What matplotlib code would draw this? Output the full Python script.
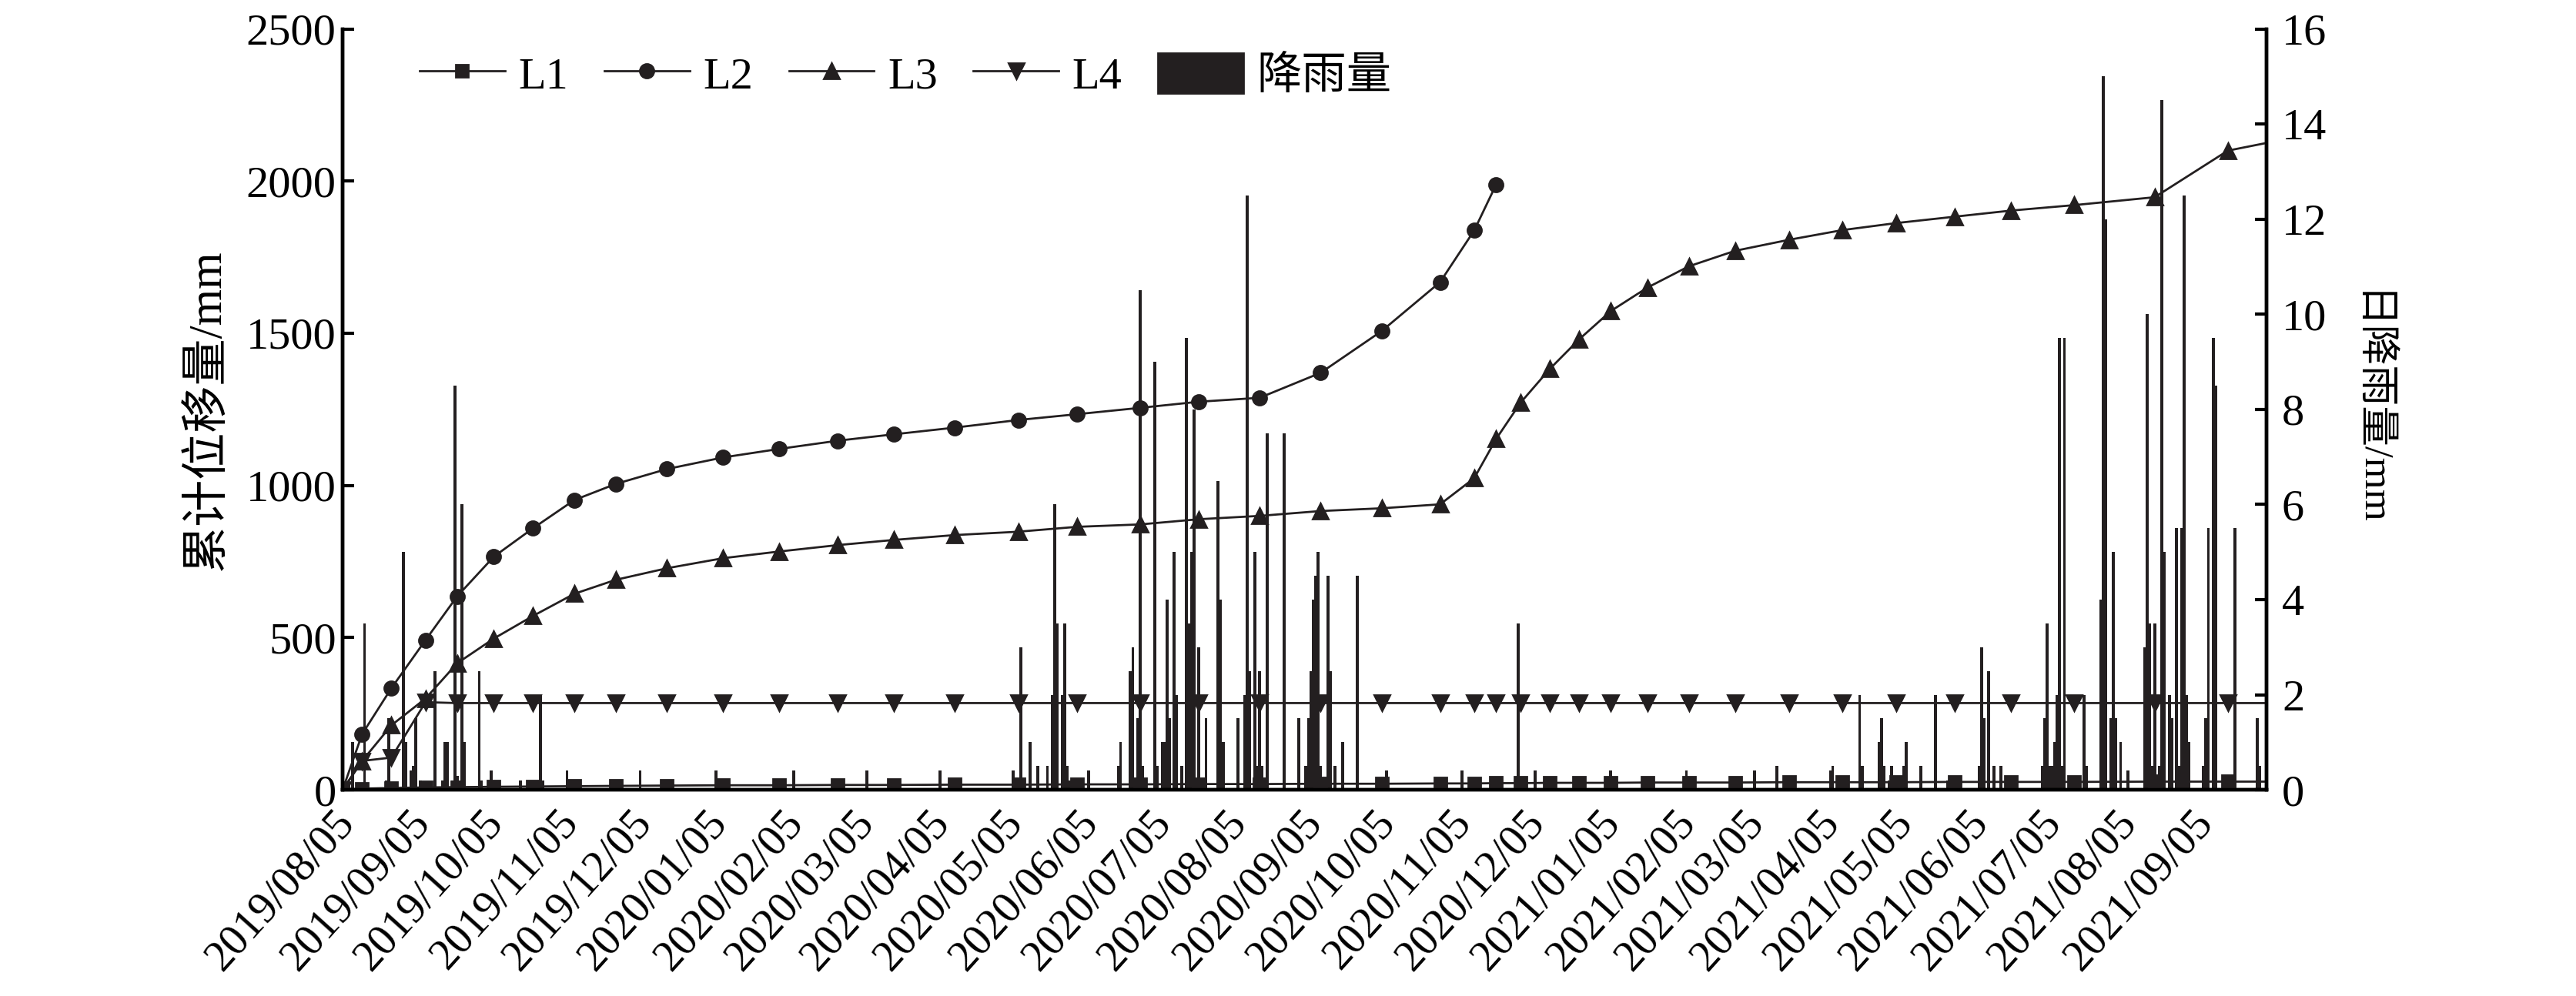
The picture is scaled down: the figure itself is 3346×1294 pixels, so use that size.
import matplotlib
matplotlib.use("Agg")
import matplotlib.pyplot as plt
import matplotlib.dates as mdates
from matplotlib.patches import Patch
from matplotlib.lines import Line2D
import pandas as pd

plt.rcParams['font.family'] = ['Liberation Serif', 'Noto Sans CJK SC']

# 监测日期（L1、L3、L4 共用；L2 只到 2020/11/12）
monitor_dates = ['2019-07-28', '2019-08-05', '2019-08-17', '2019-08-31', '2019-09-13',
                 '2019-09-28', '2019-10-14', '2019-10-31', '2019-11-17', '2019-12-08',
                 '2019-12-31', '2020-01-23', '2020-02-16', '2020-03-10', '2020-04-04',
                 '2020-04-30', '2020-05-24', '2020-06-19', '2020-07-13', '2020-08-07',
                 '2020-09-01', '2020-09-26', '2020-10-20', '2020-11-03', '2020-11-12',
                 '2020-11-22', '2020-12-04', '2020-12-16', '2020-12-29', '2021-01-13',
                 '2021-01-30', '2021-02-18', '2021-03-12', '2021-04-03', '2021-04-25',
                 '2021-05-19', '2021-06-11', '2021-07-07', '2021-08-09', '2021-09-08',
                 '2021-09-30']

# 累计位移量 /mm
L1 = [0, 4, 6, 8, 9, 10, 11, 12, 13, 14, 15, 15, 16, 16, 17, 17, 18, 18, 19, 19,
      20, 20, 21, 21, 22, 22, 23, 23, 23, 24, 24, 24, 25, 25, 25, 26, 26, 26, 27, 27, 27]
L2 = [0, 183, 334, 492, 636, 766, 859, 952, 1005, 1054, 1092, 1120, 1147, 1168, 1190,
      1215, 1234, 1255, 1275, 1288, 1370, 1507, 1668, 1838, 1989]
L3 = [0, 95, 212, 300, 416, 497, 571, 644, 690, 728, 761, 783, 804, 821, 837, 848, 864,
      872, 889, 900, 916, 925, 938, 1024, 1153, 1272, 1383, 1480, 1573, 1650, 1720, 1771,
      1807, 1839, 1862, 1883, 1903, 1921, 1947, 2100, 2135]
L4 = [0, 95, 106, 288, 285, 285, 285, 285, 285, 285, 285, 285, 285, 285, 285, 285, 285,
      285, 285, 285, 285, 285, 285, 285, 285, 285, 285, 285, 285, 285, 285, 285, 285, 285,
      285, 285, 285, 285, 285, 285, 285]

# 日降雨量 /mm
rain_dates = ['2019-08-01', '2019-08-06', '2019-08-15', '2019-08-16', '2019-08-22',
              '2019-08-23', '2019-08-25', '2019-08-26', '2019-08-27', '2019-08-29',
              '2019-09-04', '2019-09-07', '2019-09-08', '2019-09-09', '2019-09-11',
              '2019-09-12', '2019-09-13', '2019-09-14', '2019-09-15', '2019-09-16',
              '2019-09-22', '2019-09-23', '2019-09-27', '2019-10-09', '2019-10-12',
              '2019-10-17', '2019-10-18', '2019-10-28', '2019-11-27', '2019-12-28',
              '2020-01-29', '2020-02-28', '2020-03-29', '2020-04-28', '2020-05-01',
              '2020-05-02', '2020-05-05', '2020-05-08', '2020-05-12', '2020-05-14',
              '2020-05-15', '2020-05-16', '2020-05-18', '2020-05-19', '2020-05-20',
              '2020-05-21', '2020-05-23', '2020-05-29', '2020-06-10', '2020-06-11',
              '2020-06-15', '2020-06-16', '2020-06-18', '2020-06-19', '2020-06-20',
              '2020-06-25', '2020-06-26', '2020-06-28', '2020-06-29', '2020-06-30',
              '2020-07-01', '2020-07-03', '2020-07-04', '2020-07-06', '2020-07-08',
              '2020-07-09', '2020-07-10', '2020-07-11', '2020-07-13', '2020-07-16',
              '2020-07-21', '2020-07-22', '2020-07-23', '2020-07-29', '2020-08-01',
              '2020-08-02', '2020-08-03', '2020-08-05', '2020-08-06', '2020-08-07',
              '2020-08-08', '2020-08-10', '2020-08-17', '2020-08-23', '2020-08-26',
              '2020-08-27', '2020-08-28', '2020-08-29', '2020-08-30', '2020-08-31',
              '2020-09-01', '2020-09-04', '2020-09-05', '2020-09-07', '2020-09-10',
              '2020-09-16', '2020-09-25', '2020-09-26', '2020-09-28', '2020-10-29',
              '2020-11-21', '2020-11-28', '2020-12-29', '2021-01-29', '2021-02-26',
              '2021-03-07', '2021-03-29', '2021-03-30', '2021-04-01', '2021-04-03',
              '2021-04-10', '2021-04-11', '2021-04-18', '2021-04-19', '2021-04-20',
              '2021-04-22', '2021-04-23', '2021-04-25', '2021-04-28', '2021-04-29',
              '2021-05-05', '2021-05-11', '2021-05-16', '2021-05-18', '2021-05-29',
              '2021-05-30', '2021-05-31', '2021-06-02', '2021-06-04', '2021-06-07',
              '2021-06-09', '2021-06-11', '2021-06-24', '2021-06-25', '2021-06-26',
              '2021-06-27', '2021-06-28', '2021-06-29', '2021-06-30', '2021-07-01',
              '2021-07-02', '2021-07-03', '2021-07-05', '2021-07-07', '2021-07-09',
              '2021-07-11', '2021-07-12', '2021-07-18', '2021-07-19', '2021-07-20',
              '2021-07-22', '2021-07-23', '2021-07-24', '2021-07-26', '2021-07-29',
              '2021-08-05', '2021-08-06', '2021-08-07', '2021-08-08', '2021-08-09',
              '2021-08-11', '2021-08-12', '2021-08-13', '2021-08-15', '2021-08-16',
              '2021-08-18', '2021-08-19', '2021-08-20', '2021-08-21', '2021-08-22',
              '2021-08-23', '2021-08-29', '2021-08-30', '2021-08-31', '2021-09-02',
              '2021-09-03', '2021-09-06', '2021-09-08', '2021-09-11', '2021-09-20',
              '2021-09-21']
rain_mm = [1.0, 3.5, 0.2, 1.5, 5.0,
           1.0, 0.4, 0.5, 1.5, 0.2,
           2.5, 0.2, 1.0, 1.0, 0.2,
           8.5, 0.3, 0.2, 6.0, 1.0,
           2.5, 0.2, 0.4, 0.2, 0.2,
           2.0, 0.2, 0.4, 0.4, 0.4,
           0.4, 0.4, 0.4, 0.4, 3.0,
           0.2, 1.0, 0.5, 0.5, 2.0,
           6.0, 3.5, 2.0, 3.5, 0.5,
           0.2, 0.2, 0.4, 0.5, 1.0,
           2.5, 3.0, 1.5, 10.5, 0.5,
           9.0, 0.5, 1.0, 1.0, 4.0,
           1.5, 5.0, 2.0, 0.5, 9.5,
           3.5, 5.0, 8.0, 3.0, 1.5,
           6.5, 4.0, 1.0, 1.5, 2.0,
           12.5, 2.5, 5.0, 0.5, 2.5,
           0.5, 7.5, 7.5, 1.5, 0.5,
           1.5, 2.5, 4.0, 4.5, 5.0,
           0.5, 4.5, 2.5, 0.5, 1.0,
           4.5, 0.2, 0.2, 0.4, 0.4,
           3.5, 0.4, 0.4, 0.4, 0.4,
           0.5, 0.4, 0.5, 0.2, 0.2,
           2.0, 0.5, 1.0, 1.5, 0.5,
           0.2, 0.5, 0.2, 0.5, 1.0,
           0.5, 2.0, 0.2, 0.2, 0.5,
           3.0, 1.5, 2.5, 0.5, 0.5,
           0.2, 0.2, 0.5, 1.5, 3.5,
           0.5, 0.5, 1.0, 2.0, 9.5,
           0.5, 9.5, 0.2, 0.2, 0.2,
           2.0, 0.5, 4.0, 15.0, 12.0,
           1.5, 5.0, 1.5, 1.0, 0.4,
           3.0, 10.0, 3.5, 0.5, 3.5,
           0.5, 14.5, 5.0, 2.0, 1.5,
           5.5, 0.5, 5.5, 12.5, 2.0,
           1.0, 0.5, 1.5, 5.5, 9.5,
           8.5, 0.2, 0.2, 5.5, 1.5,
           0.5]

black = '#231f20'
dates = pd.to_datetime(monitor_dates)
rdates = pd.to_datetime(rain_dates)

fig = plt.figure(figsize=(16.73, 6.47), dpi=200)
ax1 = fig.add_axes([0.133, 0.207, 0.747, 0.764])
ax2 = ax1.twinx()

# 降雨量柱状图（右轴）
ax2.bar(rdates, rain_mm, width=1.2, color=black, linewidth=0)

# 累计位移曲线（左轴）
line_kw = dict(color=black, linewidth=1.0)
ax1.plot(dates, L1, marker='s', markersize=6, **line_kw)
ax1.plot(dates[:len(L2)], L2, marker='o', markersize=6.5, **line_kw)
ax1.plot(dates, L3, marker='^', markersize=7.5, **line_kw)
ax1.plot(dates, L4, marker='v', markersize=7.5, **line_kw)

ax1.set_zorder(ax2.get_zorder() + 1)
ax1.patch.set_visible(False)

ax1.set_xlim(pd.Timestamp('2019-07-28'), pd.Timestamp('2021-09-24'))
ax1.set_ylim(0, 2500)
ax2.set_ylim(0, 16)
ax1.set_yticks([0, 500, 1000, 1500, 2000, 2500])
ax2.set_yticks([0, 2, 4, 6, 8, 10, 12, 14, 16])

ax1.xaxis.set_major_locator(mdates.MonthLocator(bymonthday=5))
ax1.xaxis.set_major_formatter(mdates.DateFormatter('%Y/%m/%d'))
for lab in ax1.get_xticklabels():
    lab.set_rotation(48)
    lab.set_ha('right')

ax1.tick_params(axis='x', length=0, pad=6, labelsize=20.5)
ax1.tick_params(axis='y', direction='in', length=5.5, width=1.5, pad=3, labelsize=21)
ax2.tick_params(axis='y', direction='in', length=5.5, width=1.5, pad=7, labelsize=21)

for ax in (ax1, ax2):
    ax.spines['top'].set_visible(False)
    for s in ('left', 'right', 'bottom'):
        ax.spines[s].set_linewidth(1.6)

ax1.set_ylabel('累计位移量/mm', fontsize=22, labelpad=8)
ax2.set_ylabel('日降雨量/mm', fontsize=19, rotation=270, labelpad=28)

handles = [Line2D([], [], marker='s', markersize=6, **line_kw),
           Line2D([], [], marker='o', markersize=6.5, **line_kw),
           Line2D([], [], marker='^', markersize=7.5, **line_kw),
           Line2D([], [], marker='v', markersize=7.5, **line_kw),
           Patch(facecolor=black, edgecolor=black)]
ax1.legend(handles, ['L1', 'L2', 'L3', 'L4', '降雨量'], ncol=5, frameon=False,
           loc='center left', bbox_to_anchor=(0.04, 0.939), borderpad=0,
           borderaxespad=0, fontsize=21, handlelength=1.9, handleheight=1.0,
           handletextpad=0.3, columnspacing=0.8)

fig.savefig('out.png', dpi=200)
